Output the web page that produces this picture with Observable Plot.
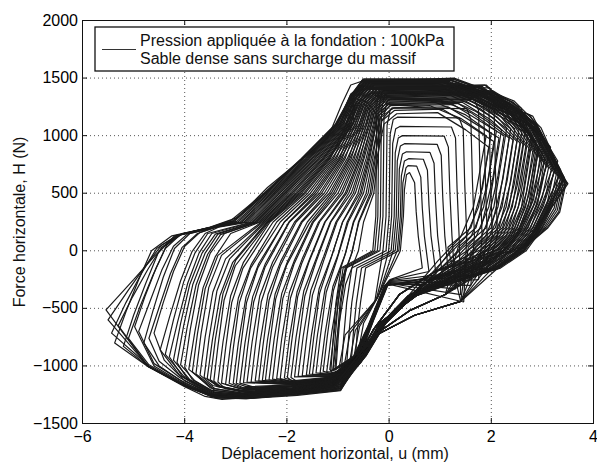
<!DOCTYPE html>
<html><head><meta charset="utf-8">
<script src="https://cdn.jsdelivr.net/npm/d3@7"></script>
<script src="https://cdn.jsdelivr.net/npm/@observablehq/plot@0.6"></script>
<style>body{margin:0;background:#fff} svg{font-family:"Liberation Sans",Arial,sans-serif}</style>
</head><body><div id="chart"></div>
<script>
const xTicks=[-6,-4,-2,0,2,4];
const yTicks=[-1500,-1000,-500,0,500,1000,1500,2000];
const legendLines=["Pression appliquée à la fondation : 100kPa","Sable dense sans surcharge du massif"];
const xLabel="Déplacement horizontal, u (mm)";
const yLabel="Force horizontale, H (N)";

// small central loops (u mm, H N pairs)
const smallLoops=[
[-0.62,-920,-0.50,-630,-0.22,-400,0.22,0,0.28,300,0.30,530,0.34,660,0.40,680,0.50,590,0.53,340,0.57,130,0.65,-150,0.02,-250,-0.30,-600,-0.52,-860],
[-0.66,-935,-0.62,-685,-0.56,-450,-0.46,-150,0.19,0,0.25,300,0.27,590,0.33,720,0.37,740,0.54,735,0.62,640,0.65,370,0.69,130,0.78,-180,0.01,-255,-0.31,-605,-0.53,-865],
[-0.70,-950,-0.58,-660,-0.22,-400,0.16,0,0.22,300,0.24,650,0.30,780,0.38,800,0.67,795,0.75,700,0.78,400,0.82,130,0.92,-210,0.00,-260,-0.32,-610,-0.55,-870],
[-0.74,-965,-0.70,-715,-0.64,-450,-0.54,-150,0.12,0,0.18,300,0.20,710,0.26,840,0.34,860,0.80,855,0.88,760,0.91,430,0.95,130,1.05,-240,-0.01,-265,-0.33,-615,-0.56,-875],
[-0.78,-980,-0.66,-690,-0.22,-400,0.08,0,0.14,300,0.16,780,0.22,910,0.30,930,0.94,925,1.02,830,1.05,465,1.09,130,1.18,-280,-0.02,-270,-0.34,-620,-0.58,-880],
[-0.83,-990,-0.79,-740,-0.73,-450,-0.63,-150,0.04,0,0.10,300,0.12,850,0.18,980,0.26,1000,1.08,995,1.16,900,1.19,500,1.23,130,1.30,-330,-0.03,-275,-0.35,-625,-0.59,-885],
[-0.88,-1000,-0.76,-710,-0.25,-420,-0.01,0,0.05,300,0.07,930,0.13,1060,0.21,1080,1.22,1075,1.30,980,1.33,540,1.37,130,1.40,-380,-0.04,-280,-0.36,-630,-0.61,-890],
[-0.93,-1010,-0.89,-760,-0.83,-450,-0.73,-150,-0.06,0,0.00,300,0.02,1010,0.08,1140,0.16,1160,1.37,1155,1.45,1060,1.48,580,1.52,130,1.46,-445,-0.05,-285,-0.37,-635,-0.62,-895],
[-0.98,-1020,-0.86,-730,-0.28,-440,-0.12,0,-0.06,300,-0.04,1090,0.02,1220,0.10,1240,1.52,1235,1.60,1140,1.63,620,1.67,130,1.60,-300,-0.06,-290,-0.38,-640,-0.64,-900],
[-1.04,-1030,-1.00,-780,-0.94,-450,-0.84,-150,-0.18,0,-0.12,300,-0.10,1170,-0.04,1300,0.04,1320,1.67,1315,1.75,1220,1.78,660,1.82,130,1.75,-250,-0.07,-295,-0.39,-645,-0.65,-905],
[-1.06,-1035,-1.02,-785,-0.96,-450,-0.86,-150,-0.23,0,-0.17,300,-0.15,1220,-0.09,1350,-0.01,1370,1.77,1365,1.85,1270,1.88,690,1.92,130,1.80,-200,-0.08,-300,-0.40,-650,-0.67,-910],
[-1.10,-1040,-1.06,-790,-1.00,-450,-0.90,-150,-0.28,0,-0.22,300,-0.20,1250,-0.14,1380,-0.06,1400,1.87,1395,1.95,1300,1.98,700,2.02,130,1.85,-150,-0.09,-305,-0.41,-655,-0.68,-915],
[-1.14,-1045,-1.10,-795,-1.04,-450,-0.94,-150,-0.32,0,-0.26,300,-0.24,1270,-0.18,1400,-0.10,1420,1.97,1415,2.05,1320,2.08,720,2.12,130,1.95,-120,-0.10,-310,-0.42,-660,-0.70,-920]
];

// large loops, first cycle of each amplitude, inner to outer
const bigLoops=[
[-1.10,-1040,-1.00,-690,-0.85,-290,-0.60,0,-0.50,250,-0.30,500,-0.22,800,-0.15,1130,0.05,1240,0.80,1260,1.40,1150,1.90,1000,1.65,380,1.40,120,0.95,-90,0.38,-390,-0.15,-630,-0.45,-900,-0.95,-1060],
[-1.22,-1050,-1.12,-700,-0.97,-300,-0.72,-10,-0.60,250,-0.37,500,-0.27,800,-0.17,1160,0.03,1270,0.90,1290,1.50,1180,2.00,1020,1.75,380,1.50,120,1.05,-90,0.43,-390,-0.11,-630,-0.55,-900,-0.95,-1065],
[-1.35,-1060,-1.25,-710,-1.10,-310,-0.85,-20,-0.70,250,-0.45,500,-0.32,800,-0.19,1180,0.01,1290,1.00,1310,1.60,1200,2.10,1040,1.85,380,1.60,120,1.15,-90,0.48,-390,-0.07,-630,-0.50,-900,-0.95,-1070],
[-1.50,-1075,-1.40,-725,-1.25,-325,-1.00,-35,-0.82,250,-0.54,500,-0.38,800,-0.21,1200,-0.01,1310,1.10,1330,1.70,1210,2.20,1050,1.95,380,1.70,120,1.25,-90,0.53,-390,-0.19,-630,-0.45,-900,-0.95,-1075],
[-1.62,-1080,-1.52,-730,-1.37,-330,-1.12,-40,-0.91,250,-0.61,500,-0.42,800,-0.27,1100,-0.23,1220,-0.03,1330,1.20,1350,1.80,1230,2.30,1060,2.05,380,1.80,120,1.35,-90,0.38,-390,-0.15,-630,-0.55,-900,-0.95,-1080],
[-1.78,-1090,-1.68,-740,-1.53,-340,-1.28,-50,-1.04,250,-0.70,500,-0.49,800,-0.31,1100,-0.25,1230,-0.05,1340,1.28,1360,1.88,1240,2.38,1060,2.13,380,1.88,120,1.43,-90,0.43,-390,-0.11,-630,-0.50,-900,-0.95,-1090],
[-1.92,-1100,-1.82,-750,-1.67,-350,-1.42,-60,-1.15,250,-0.79,500,-0.54,800,-0.34,1100,-0.27,1240,-0.07,1350,1.36,1370,1.96,1250,2.46,1060,2.21,380,1.96,120,1.51,-90,0.48,-390,-0.07,-630,-0.45,-900,-0.95,-1090,-1.80,-1135],
[-2.05,-1105,-1.95,-755,-1.80,-355,-1.55,-65,-1.26,250,-0.86,500,-0.59,800,-0.37,1100,-0.29,1250,-0.09,1360,1.44,1380,2.04,1250,2.54,1050,2.29,380,2.04,120,1.59,-90,0.53,-390,-0.19,-630,-0.55,-900,-0.95,-1095,-1.80,-1140],
[-2.20,-1110,-2.10,-760,-1.95,-360,-1.70,-70,-1.38,250,-0.95,500,-0.65,800,-0.40,1100,-0.31,1260,-0.11,1370,1.50,1390,2.10,1250,2.60,1040,2.35,380,2.10,120,1.65,-90,0.38,-390,-0.15,-630,-0.50,-900,-0.95,-1100,-1.80,-1145],
[-2.35,-1120,-2.25,-770,-2.10,-370,-1.85,-80,-1.50,250,-1.05,500,-0.71,800,-0.43,1100,-0.33,1270,-0.13,1380,1.56,1400,2.16,1250,2.66,1030,2.41,380,2.16,120,1.71,-90,0.43,-390,-0.11,-630,-0.45,-900,-0.95,-1105,-1.80,-1150],
[-2.48,-1125,-2.38,-775,-2.23,-375,-1.98,-85,-1.60,250,-1.13,500,-0.77,800,-0.46,1100,-0.35,1280,-0.15,1390,1.62,1410,2.22,1250,2.72,1020,2.47,380,2.22,120,1.77,-90,0.48,-390,-0.07,-630,-0.55,-900,-0.95,-1110,-1.80,-1155],
[-2.62,-1130,-2.52,-780,-2.37,-380,-2.12,-90,-1.72,250,-1.22,500,-0.82,800,-0.50,1100,-0.37,1280,-0.17,1390,1.68,1410,2.28,1230,2.78,1000,2.53,380,2.28,120,1.83,-90,0.53,-390,-0.19,-630,-0.50,-900,-0.95,-1115,-1.80,-1160],
[-2.78,-1140,-2.68,-790,-2.53,-390,-2.28,-100,-1.85,250,-1.32,500,-0.89,800,-0.53,1100,-0.39,1290,-0.19,1400,1.74,1420,2.34,1270,2.84,1070,2.59,380,2.34,120,1.89,-90,0.38,-390,-0.15,-630,-0.45,-900,-0.95,-1120,-1.80,-1165],
[-2.92,-1150,-2.82,-800,-2.67,-400,-2.42,-110,-1.96,250,-1.41,500,-0.95,800,-0.56,1100,-0.41,1300,-0.21,1410,1.78,1430,2.33,1230,2.88,950,2.63,380,2.38,120,1.93,-90,0.43,-390,-0.11,-630,-0.55,-900,-0.95,-1125,-1.80,-1170,-2.60,-1190],
[-3.05,-1150,-2.95,-800,-2.80,-400,-2.55,-110,-2.05,250,-1.49,500,-1.00,800,-0.59,1100,-0.43,1300,-0.23,1410,1.82,1430,2.37,1210,2.92,900,2.67,380,2.42,120,1.97,-90,0.48,-390,-0.07,-630,-0.50,-900,-0.95,-1130,-1.80,-1175,-2.80,-1200],
[-3.20,-1160,-3.10,-810,-2.95,-410,-2.70,-120,-2.20,250,-1.59,500,-1.06,800,-0.63,1100,-0.45,1310,-0.25,1420,1.87,1440,2.42,1250,2.97,985,2.72,380,2.47,120,2.02,-90,0.53,-390,-0.19,-630,-0.45,-900,-0.95,-1135,-1.80,-1180,-2.80,-1210],
[-3.35,-1140,-3.25,-790,-3.10,-390,-2.85,-100,-2.33,250,-1.67,500,-1.12,800,-0.66,1100,-0.47,1310,-0.27,1420,1.90,1440,2.45,1200,3.00,850,2.75,380,2.50,120,2.05,-90,0.38,-390,-0.15,-630,-0.55,-900,-0.95,-1140,-1.80,-1190,-2.80,-1220,-3.20,-1200],
[-3.50,-1120,-3.40,-770,-3.25,-370,-3.00,-80,-2.37,250,-1.74,500,-1.17,800,-0.70,1100,-0.49,1320,-0.29,1440,0.85,1440,1.55,1330,2.00,1240,2.55,1160,3.05,800,2.77,390,2.50,150,2.25,0,1.75,-150,0.48,-390,-0.07,-630,-0.50,-910,-0.95,-1150,-1.80,-1200,-2.80,-1225,-3.30,-1180],
[-3.62,-1100,-3.52,-750,-3.37,-350,-3.12,-70,-2.42,250,-1.80,500,-1.21,800,-0.72,1100,-0.51,1320,-0.31,1440,0.90,1440,1.60,1330,2.05,1240,2.60,1160,3.10,760,2.82,390,2.55,150,2.30,0,1.80,-150,0.53,-390,-0.19,-630,-0.45,-910,-0.95,-1155,-1.80,-1205,-2.80,-1230,-3.35,-1170],
[-3.78,-1070,-3.68,-720,-3.53,-320,-3.28,-40,-2.47,250,-1.87,500,-1.27,800,-0.76,1100,-0.53,1330,-0.33,1450,0.96,1450,1.66,1340,2.11,1250,2.66,1170,3.16,900,2.88,390,2.61,150,2.36,0,1.86,-150,0.38,-390,-0.15,-630,-0.55,-910,-0.95,-1160,-1.80,-1210,-2.80,-1240,-3.40,-1200],
[-3.92,-1030,-3.80,-700,-3.64,-320,-3.40,-50,-3.10,150,-2.52,250,-1.93,500,-1.31,800,-0.79,1100,-0.55,1330,-0.35,1450,1.00,1450,1.70,1340,2.15,1250,2.65,1170,3.20,720,2.92,390,2.65,150,2.40,0,1.90,-150,0.43,-390,-0.11,-630,-0.50,-910,-0.95,-1165,-1.80,-1215,-2.80,-1245,-3.40,-1215],
[-4.08,-990,-3.95,-660,-3.78,-300,-3.55,-30,-3.30,140,-2.58,250,-2.01,500,-1.37,800,-0.83,1100,-0.57,1340,-0.37,1460,1.05,1460,1.75,1350,2.20,1260,2.70,1170,3.25,700,2.97,390,2.70,150,2.45,0,1.95,-150,0.48,-390,-0.07,-630,-0.45,-910,-0.95,-1170,-1.80,-1220,-2.80,-1250,-3.40,-1230,-3.80,-1130],
[-4.22,-950,-4.08,-630,-3.90,-290,-3.66,-20,-3.40,145,-2.63,250,-2.07,500,-1.42,800,-0.86,1100,-0.59,1340,-0.39,1460,1.10,1460,1.80,1350,2.25,1260,2.75,1180,3.30,780,3.02,390,2.75,150,2.50,0,2.00,-150,0.53,-390,-0.19,-630,-0.50,-910,-0.95,-1175,-1.80,-1225,-2.80,-1255,-3.40,-1240,-3.90,-1120],
[-4.38,-900,-4.22,-600,-4.02,-270,-3.80,-20,-3.55,150,-2.69,250,-2.14,500,-1.47,800,-0.90,1100,-0.61,1350,-0.41,1470,1.14,1470,1.84,1360,2.29,1270,2.79,1130,3.34,660,3.06,390,2.79,150,2.54,0,2.04,-150,0.38,-390,-0.15,-630,-0.55,-910,-0.95,-1180,-1.80,-1230,-2.80,-1260,-3.40,-1250,-4.00,-1100],
[-4.60,-715,-4.42,-450,-4.22,-180,-4.00,40,-3.70,160,-3.34,215,-2.77,250,-2.21,500,-1.52,800,-0.93,1100,-0.63,1350,-0.43,1470,1.18,1470,1.88,1360,2.33,1270,2.83,1110,3.38,640,3.10,390,2.83,150,2.58,0,2.08,-150,0.43,-390,-0.11,-630,-0.50,-910,-0.95,-1185,-1.80,-1230,-2.80,-1265,-3.40,-1255,-4.00,-1130,-4.40,-950],
[-4.80,-800,-4.62,-520,-4.42,-230,-4.20,20,-3.90,150,-3.37,212,-2.84,250,-2.26,500,-1.57,800,-0.96,1100,-0.65,1360,-0.45,1480,1.20,1480,1.90,1370,2.35,1280,2.85,1090,3.40,620,3.12,390,2.85,150,2.60,0,2.10,-150,0.48,-390,-0.07,-630,-0.45,-910,-0.95,-1190,-1.80,-1235,-2.80,-1270,-3.40,-1260,-4.00,-1150,-4.50,-1000],
[-4.98,-660,-4.78,-400,-4.56,-150,-4.35,50,-4.05,150,-3.40,210,-2.91,250,-2.31,500,-1.61,800,-0.98,1100,-0.67,1360,-0.47,1480,1.23,1480,1.93,1370,2.38,1280,2.88,1100,3.43,635,3.15,390,2.88,150,2.63,0,2.13,-150,0.53,-390,-0.19,-630,-0.50,-910,-0.95,-1195,-1.80,-1240,-2.80,-1275,-3.40,-1265,-4.00,-1160,-4.60,-1000],
[-5.20,-830,-5.00,-560,-4.76,-280,-4.52,-20,-4.20,130,-3.42,208,-2.98,255,-2.37,500,-1.65,800,-1.01,1100,-0.69,1370,-0.49,1490,1.25,1490,1.95,1380,2.40,1290,2.90,1070,3.45,600,3.17,390,2.90,150,2.65,0,2.15,-150,0.38,-390,-0.15,-630,-0.55,-910,-0.95,-1200,-1.80,-1240,-2.80,-1280,-3.40,-1270,-4.00,-1170,-4.70,-1010],
[-5.37,-800,-5.15,-530,-4.90,-250,-4.65,0,-4.25,130,-3.45,207,-3.04,260,-2.42,500,-1.69,800,-1.03,1100,-0.71,1370,-0.51,1490,1.28,1490,1.98,1380,2.43,1290,2.93,1060,3.48,590,3.20,390,2.93,150,2.68,0,2.18,-150,0.43,-390,-0.11,-630,-0.50,-910,-0.95,-1205,-1.80,-1245,-2.80,-1285,-3.35,-1280,-4.00,-1175,-4.72,-1005],
[-5.54,-513,-5.00,-250,-4.60,-50,-4.35,60,-4.07,140,-3.50,205,-2.96,290,-2.38,550,-1.75,780,-1.20,980,-0.92,1280,-0.75,1440,-0.55,1470,1.27,1500,2.00,1380,2.45,1300,2.97,1070,3.40,640,3.50,583,3.22,400,2.97,265,2.70,60,2.20,-120,0.48,-390,-0.07,-630,-0.55,-970,-1.00,-1150,-1.73,-1235,-2.50,-1265,-3.27,-1290,-3.60,-1265,-4.00,-1180,-4.72,-1005],
[-5.43,-715,-5.15,-450,-4.85,-200,-4.55,20,-4.15,135,-3.47,206,-3.06,260,-2.43,500,-1.71,800,-1.04,1100,-0.72,1340,-0.52,1460,1.16,1460,1.86,1350,2.31,1260,2.81,1170,3.36,700,3.08,390,2.81,150,2.56,0,2.06,-150,0.53,-390,-0.19,-630,-0.50,-910,-0.95,-1210,-1.80,-1250,-2.80,-1280,-3.40,-1270,-4.00,-1170,-4.70,-1000],
[-5.50,-600,-5.10,-340,-4.75,-120,-4.45,50,-4.10,138,-3.48,206,-3.09,265,-2.45,500,-1.72,800,-1.05,1100,-0.73,1360,-0.53,1480,1.22,1480,1.92,1370,2.37,1280,2.87,1080,3.42,610,3.14,390,2.87,150,2.62,0,2.12,-150,0.38,-390,-0.15,-630,-0.55,-910,-0.95,-1215,-1.80,-1255,-2.80,-1285,-3.40,-1275,-4.00,-1175,-4.72,-1000]
];

// large loops, second cycle of each amplitude
const bigLoops2=[
[-1.16,-1030,-1.08,-730,-0.96,-330,-0.74,-30,-0.59,250,-0.34,500,-0.24,800,-0.10,1100,0.15,1190,0.95,1200,1.50,1050,1.95,900,1.83,550,1.60,200,1.15,30,1.40,-440,0.50,-560,-0.20,-720,-0.58,-900,-1.10,-1070],
[-1.29,-1045,-1.21,-745,-1.09,-345,-0.87,-45,-0.69,250,-0.41,500,-0.29,800,-0.14,1130,0.11,1220,1.05,1230,1.60,1080,2.05,950,1.93,600,1.70,200,1.25,30,0.90,-180,0.20,-380,-0.30,-680,-0.58,-900,-1.10,-1074],
[-1.43,-1060,-1.35,-760,-1.23,-360,-1.01,-60,-0.80,250,-0.50,500,-0.35,800,-0.18,1150,0.07,1240,1.15,1250,1.70,1100,2.15,980,2.03,630,1.80,200,1.35,30,1.10,-380,0.40,-520,-0.25,-720,-0.58,-900,-1.10,-1078],
[-1.56,-1070,-1.48,-770,-1.36,-370,-1.14,-70,-0.91,250,-0.57,500,-0.40,800,-0.22,1170,0.03,1260,1.25,1270,1.80,1120,2.25,1000,2.13,650,1.90,200,1.45,30,0.70,-280,0.30,-450,-0.15,-640,-0.58,-900,-1.10,-1082],
[-1.70,-1085,-1.62,-785,-1.50,-385,-1.28,-85,-1.02,250,-0.66,500,-0.45,800,-0.29,1100,-0.26,1180,-0.01,1270,1.35,1280,1.90,1130,2.35,980,2.23,630,2.00,200,1.55,30,1.40,-440,0.50,-560,-0.20,-720,-0.58,-900,-1.10,-1086],
[-1.85,-1095,-1.77,-795,-1.65,-395,-1.43,-95,-1.14,250,-0.74,500,-0.51,800,-0.30,1190,-0.05,1280,1.43,1290,1.98,1140,2.43,960,2.31,610,2.08,200,1.63,30,0.90,-180,0.20,-380,-0.30,-680,-0.58,-900,-1.10,-1090],
[-1.99,-1100,-1.91,-800,-1.79,-400,-1.57,-100,-1.25,250,-0.83,500,-0.57,800,-0.34,1200,-0.09,1290,1.50,1300,2.05,1150,2.50,950,2.38,600,2.15,200,1.70,30,1.10,-380,0.40,-520,-0.25,-720,-0.58,-900,-1.10,-1094,-1.90,-1130],
[-2.13,-1110,-2.05,-810,-1.93,-410,-1.71,-110,-1.36,250,-0.91,500,-0.62,800,-0.38,1210,-0.13,1300,1.57,1310,2.12,1160,2.57,930,2.45,580,2.22,200,1.77,30,0.70,-280,0.30,-450,-0.15,-640,-0.58,-900,-1.10,-1098,-1.90,-1135],
[-2.28,-1115,-2.20,-815,-2.08,-415,-1.86,-115,-1.48,250,-1.00,500,-0.68,800,-0.42,1220,-0.17,1310,1.63,1320,2.18,1170,2.63,920,2.51,570,2.28,200,1.83,30,1.40,-440,0.50,-560,-0.20,-720,-0.58,-900,-1.10,-1102,-1.90,-1140],
[-2.42,-1120,-2.34,-820,-2.22,-420,-2.00,-120,-1.56,240,-1.09,500,-0.74,800,-0.45,1230,-0.20,1320,1.69,1330,2.24,1180,2.69,900,2.57,550,2.34,200,1.89,30,0.90,-180,0.20,-380,-0.30,-680,-0.58,-900,-1.10,-1106,-1.90,-1145],
[-2.55,-1130,-2.47,-830,-2.35,-430,-2.13,-130,-1.70,250,-1.17,500,-0.79,800,-0.48,1240,-0.23,1330,1.75,1340,2.30,1190,2.75,880,2.63,530,2.40,200,1.95,30,1.10,-380,0.40,-520,-0.25,-720,-0.58,-900,-1.10,-1110,-1.90,-1150],
[-2.70,-1140,-2.62,-840,-2.50,-440,-2.28,-140,-1.82,250,-1.27,500,-0.86,800,-0.51,1250,-0.26,1340,1.81,1350,2.36,1200,2.81,860,2.69,510,2.46,200,2.01,30,0.70,-280,0.30,-450,-0.15,-640,-0.58,-900,-1.10,-1114,-1.90,-1155],
[-2.85,-1145,-2.77,-845,-2.65,-445,-2.43,-145,-1.95,250,-1.36,500,-0.92,800,-0.54,1260,-0.29,1350,1.86,1360,2.41,1210,2.86,840,2.74,490,2.51,200,2.06,30,1.40,-440,0.50,-560,-0.20,-720,-0.58,-900,-1.10,-1118,-1.90,-1160],
[-2.99,-1150,-2.91,-850,-2.79,-450,-2.57,-150,-2.05,250,-1.45,500,-0.97,800,-0.57,1270,-0.32,1360,1.90,1370,2.45,1220,2.90,820,2.78,470,2.55,200,2.10,30,0.90,-180,0.20,-380,-0.30,-680,-0.58,-900,-1.10,-1122,-1.90,-1165,-2.80,-1180],
[-3.13,-1150,-3.05,-850,-2.93,-450,-2.71,-150,-2.13,250,-1.54,500,-1.03,800,-0.60,1280,-0.35,1370,1.95,1380,2.50,1230,2.95,800,2.83,450,2.60,200,2.15,30,1.10,-380,0.40,-520,-0.25,-720,-0.58,-900,-1.10,-1126,-1.90,-1170,-2.90,-1190],
[-3.28,-1150,-3.20,-850,-3.08,-450,-2.86,-150,-2.27,250,-1.64,500,-1.09,800,-0.62,1280,-0.37,1370,1.99,1380,2.54,1230,2.99,780,2.87,430,2.64,200,2.19,30,0.70,-280,0.30,-450,-0.15,-640,-0.58,-900,-1.10,-1130,-1.90,-1175,-2.90,-1200],
[-3.43,-1130,-3.35,-830,-3.23,-430,-3.01,-130,-2.35,250,-1.71,500,-1.15,800,-0.64,1290,-0.39,1380,2.03,1390,2.58,1240,3.03,760,2.91,410,2.68,200,2.23,30,1.40,-440,0.50,-560,-0.20,-720,-0.58,-900,-1.10,-1134,-1.90,-1180,-2.90,-1210,-3.30,-1180],
[-3.56,-1110,-3.46,-780,-3.31,-390,-3.06,-100,-2.39,250,-1.77,500,-1.19,800,-0.71,1100,-0.66,1310,-0.41,1400,0.97,1400,1.67,1290,2.12,1180,2.57,1080,3.07,740,2.95,490,2.72,200,2.27,30,0.90,-180,0.20,-380,-0.30,-680,-0.58,-900,-1.10,-1140,-1.90,-1190,-2.90,-1215,-3.35,-1180],
[-3.70,-1080,-3.60,-750,-3.45,-360,-3.20,-70,-2.44,250,-1.83,500,-1.24,800,-0.74,1100,-0.68,1320,-0.43,1410,1.02,1410,1.72,1300,2.17,1190,2.62,1090,3.12,720,3.00,470,2.77,200,2.32,30,1.10,-380,0.40,-520,-0.25,-720,-0.58,-900,-1.10,-1145,-1.90,-1195,-2.90,-1225,-3.45,-1170],
[-3.85,-1050,-3.75,-720,-3.60,-330,-3.35,-40,-2.50,250,-1.90,500,-1.29,800,-0.78,1100,-0.69,1320,-0.44,1410,1.07,1410,1.77,1300,2.22,1190,2.67,1090,3.17,700,3.05,450,2.82,200,2.37,30,0.70,-280,0.30,-450,-0.15,-640,-0.58,-900,-1.10,-1150,-1.90,-1200,-2.90,-1235,-3.50,-1190],
[-4.00,-1010,-3.89,-680,-3.73,-300,-3.50,-20,-3.22,150,-2.55,250,-1.97,500,-1.34,800,-0.81,1100,-0.70,1330,-0.45,1420,1.12,1420,1.82,1310,2.27,1200,2.72,1100,3.22,680,3.10,430,2.87,200,2.42,30,1.40,-440,0.50,-560,-0.20,-720,-0.58,-900,-1.10,-1155,-1.90,-1205,-2.90,-1240,-3.50,-1210,-3.85,-1120],
[-4.15,-970,-4.02,-650,-3.84,-290,-3.60,-20,-3.35,145,-2.61,250,-2.04,500,-1.39,800,-0.84,1100,-0.71,1330,-0.46,1420,1.17,1420,1.87,1310,2.32,1200,2.77,1080,3.27,660,3.15,410,2.92,200,2.47,30,0.90,-180,0.20,-380,-0.30,-680,-0.58,-900,-1.10,-1160,-1.90,-1210,-2.90,-1245,-3.50,-1225,-3.95,-1110],
[-4.30,-920,-4.14,-620,-3.94,-280,-3.72,-20,-3.47,150,-2.66,250,-2.10,500,-1.45,800,-0.88,1100,-0.72,1340,-0.47,1430,1.21,1430,1.91,1320,2.36,1210,2.81,1060,3.31,640,3.19,390,2.96,200,2.51,30,1.10,-380,0.40,-520,-0.25,-720,-0.58,-900,-1.10,-1165,-1.90,-1215,-2.90,-1250,-3.50,-1235,-4.05,-1090],
[-4.48,-860,-4.30,-580,-4.08,-260,-3.86,-10,-3.60,150,-3.34,205,-2.73,250,-2.17,500,-1.50,800,-0.91,1100,-0.73,1340,-0.48,1430,1.25,1430,1.95,1320,2.40,1210,2.85,1040,3.35,620,3.23,370,3.00,200,2.55,30,0.70,-280,0.30,-450,-0.15,-640,-0.58,-900,-1.10,-1170,-1.90,-1220,-2.90,-1255,-3.50,-1245,-4.10,-1080],
[-4.70,-760,-4.50,-490,-4.28,-200,-4.05,30,-3.75,150,-3.36,207,-2.81,250,-2.23,500,-1.55,800,-0.94,1100,-0.74,1350,-0.49,1440,1.28,1440,1.98,1330,2.43,1220,2.88,1030,3.38,610,3.26,360,3.03,200,2.58,30,1.40,-440,0.50,-560,-0.20,-720,-0.58,-900,-1.10,-1175,-1.90,-1225,-2.90,-1260,-3.50,-1250,-4.10,-1100,-4.50,-960],
[-4.90,-700,-4.68,-440,-4.45,-170,-4.22,40,-3.95,145,-3.38,206,-2.88,250,-2.29,500,-1.59,800,-0.97,1100,-0.74,1350,-0.49,1440,1.31,1440,2.01,1330,2.46,1220,2.91,1020,3.41,600,3.29,350,3.06,200,2.61,30,0.90,-180,0.20,-380,-0.30,-680,-0.58,-900,-1.10,-1180,-1.90,-1230,-2.90,-1265,-3.50,-1255,-4.10,-1120,-4.60,-980],
[-5.10,-760,-4.88,-490,-4.62,-210,-4.38,20,-4.10,135,-3.41,207,-2.95,252,-2.34,500,-1.63,800,-1.00,1100,-0.75,1360,-0.50,1450,1.34,1450,2.04,1340,2.49,1230,2.94,1010,3.44,590,3.32,340,3.09,200,2.64,30,1.10,-380,0.40,-520,-0.25,-720,-0.58,-900,-1.10,-1185,-1.90,-1235,-2.90,-1270,-3.50,-1260,-4.10,-1140,-4.70,-990],
[-5.30,-650,-5.02,-400,-4.72,-160,-4.45,30,-4.12,135,-3.43,206,-3.02,258,-2.40,500,-1.68,800,-1.02,1100,-0.75,1360,-0.50,1450,1.36,1450,2.06,1340,2.51,1230,2.96,1000,3.46,585,3.34,335,3.11,200,2.66,30,0.70,-280,0.30,-450,-0.15,-640,-0.58,-900,-1.10,-1190,-1.90,-1240,-2.90,-1275,-3.50,-1262,-4.10,-1150,-4.72,-1000]
];

const rows=[];
[...smallLoops,...bigLoops,...bigLoops2].forEach((lp,i)=>{
  for(let k=0;k<lp.length;k+=2) rows.push({loop:i,u:lp[k],H:lp[k+1]});
  rows.push({loop:i,u:lp[0],H:lp[1]});
});

const W=597,HT=463,mL=82,mR=4,mT=20,mB=40;
const fw=W-mL-mR, fh=HT-mT-mB;
const fmt=d3.format("d");

const chart=Plot.plot({
  width:W,height:HT,marginLeft:mL,marginRight:mR,marginTop:mT,marginBottom:mB,
  style:{fontFamily:"Liberation Sans, Arial, sans-serif",fontSize:"16px",background:"#fff",color:"#000",overflow:"visible"},
  x:{domain:[-6,4]},
  y:{domain:[-1500,2000]},
  marks:[
    Plot.gridX({ticks:xTicks,stroke:"#555",strokeOpacity:1,strokeDasharray:"1,3"}),
    Plot.gridY({ticks:yTicks,stroke:"#555",strokeOpacity:1,strokeDasharray:"1,3"}),
    Plot.line(rows,{x:"u",y:"H",z:"loop",stroke:"#1a1a1a",strokeWidth:1.2,strokeLinejoin:"miter"}),
    Plot.frame({stroke:"#111",strokeWidth:1}),
    Plot.tickX(xTicks,{x:d=>d,insetBottom:fh-5,stroke:"#111"}),
    Plot.tickX(xTicks,{x:d=>d,insetTop:fh-5,stroke:"#111"}),
    Plot.tickY(yTicks,{y:d=>d,insetRight:fw-5,stroke:"#111"}),
    Plot.tickY(yTicks,{y:d=>d,insetLeft:fw-5,stroke:"#111"}),
    Plot.axisX({ticks:xTicks,tickSize:0,tickPadding:7,fontSize:16,label:null,tickFormat:fmt}),
    Plot.axisY({ticks:yTicks,tickSize:0,tickPadding:4.5,fontSize:16,label:null,tickFormat:fmt})
  ]
});
document.getElementById("chart").appendChild(chart);

const svg=d3.select(chart);
const lg=svg.append("g");
lg.append("rect").attr("x",95).attr("y",27).attr("width",359).attr("height",44)
  .attr("fill","#fff").attr("stroke","#111").attr("stroke-width",1.3);
lg.append("line").attr("x1",102).attr("x2",136).attr("y1",49.5).attr("y2",49.5)
  .attr("stroke","#333").attr("stroke-width",1);
lg.selectAll("text.l").data(legendLines).join("text").attr("class","l")
  .attr("x",140).attr("y",(d,i)=>46+i*18.3).attr("text-anchor","start")
  .attr("font-size",16).attr("fill","#111").text(d=>d);
svg.append("text").attr("x",335).attr("y",459).attr("text-anchor","middle")
  .attr("font-size",16).attr("fill","#111").text(xLabel);
svg.append("text").attr("transform","translate(24.5,222) rotate(-90)").attr("text-anchor","middle")
  .attr("font-size",16).attr("fill","#111").text(yLabel);
</script>
</body></html>
